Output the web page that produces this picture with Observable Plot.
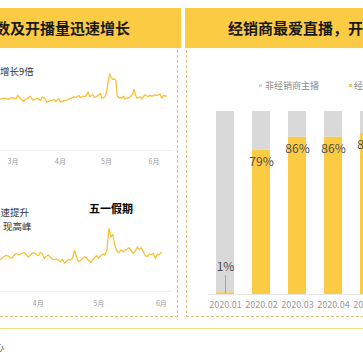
<!DOCTYPE html>
<html><head><meta charset="utf-8">
<script src="https://cdn.jsdelivr.net/npm/d3@7"></script>
<script src="https://cdn.jsdelivr.net/npm/@observablehq/plot@0.6"></script>
<style>
html,body{margin:0;padding:0;background:#fff;}
#root{position:relative;width:363px;height:363px;overflow:hidden;font-family:"Noto Sans CJK SC","Noto Sans",sans-serif;background:#fff;}
.abs{position:absolute;white-space:nowrap;}
.banner{position:absolute;top:8px;height:40px;background:#FBCB43;}
.title{position:absolute;top:8px;height:40px;line-height:40px;font-size:15px;font-weight:bold;color:#1a1a1a;white-space:nowrap;}
.vdash{position:absolute;top:50px;height:267px;width:1px;background:repeating-linear-gradient(to bottom,#D9C27A 0 3px,transparent 3px 5px);}
.hdash{position:absolute;top:316px;height:1px;background:repeating-linear-gradient(to right,#D9C27A 0 3px,transparent 3px 5px);}
.chart{position:absolute;}
.chart svg{max-width:none !important;}
.note{position:absolute;white-space:nowrap;font-size:10px;color:#333;line-height:1;}
</style></head>
<body><div id="root">
  <div class="banner" style="left:0;width:181px;"></div>
  <div class="banner" style="left:185px;width:178px;"></div>
  <div class="title" style="left:-5px;">数及开播量迅速增长</div>
  <div class="title" style="left:228px;">经销商最爱直播，开播</div>
  <div class="vdash" style="left:177px;"></div>
  <div class="vdash" style="left:186px;"></div>
  <div class="hdash" style="left:0;width:178px;"></div>
  <div class="hdash" style="left:186px;width:177px;"></div>
  <div class="abs" style="left:0;top:328px;width:363px;height:1px;background:#F3DE8A;"></div>
  <div class="abs" style="left:-16px;top:339px;font-size:10px;color:#555;">中心</div>

  <div id="c1" class="chart" style="left:0;top:50px;width:172px;"></div>
  <div id="c2" class="chart" style="left:0;top:215px;width:172px;"></div>
  <div id="c3" class="chart" style="left:186px;top:100px;width:230px;"></div>

  <div class="note" style="left:0;top:67px;font-size:9.5px;">增长9倍</div>
  <div class="note" style="left:-9px;top:208px;font-size:9.5px;">迅速提升</div>
  <div class="note" style="left:3px;top:221.5px;font-size:9.5px;">现高峰</div>
  <div class="note" style="left:89px;top:203px;font-size:11px;font-weight:bold;color:#000;">五一假期</div>

  <div class="abs" style="left:259px;top:84px;width:3px;height:3px;background:#D9D9D9;"></div>
  <div class="note" style="left:265px;top:81px;font-size:9px;color:#8c8c8c;">非经销商主播</div>
  <div class="abs" style="left:349px;top:84px;width:3px;height:3px;background:#FBCB43;"></div>
  <div class="note" style="left:354px;top:81px;font-size:9px;color:#8c8c8c;">经销商主播</div>
</div>
<script>
// ---- Chart 1: daily index (upper left) ----
const dates1 = ["2020-02-22","2020-02-25","2020-02-27","2020-02-29","2020-03-03","2020-03-04","2020-03-06","2020-03-08","2020-03-09","2020-03-11","2020-03-12","2020-03-14","2020-03-16","2020-03-17","2020-03-19","2020-03-20","2020-03-22","2020-03-23","2020-03-25","2020-03-27","2020-03-28","2020-03-29","2020-03-31","2020-04-01","2020-04-03","2020-04-05","2020-04-06","2020-04-08","2020-04-10","2020-04-11","2020-04-13","2020-04-14","2020-04-16","2020-04-17","2020-04-19","2020-04-20","2020-04-22","2020-04-23","2020-04-25","2020-04-27","2020-04-28","2020-04-30","2020-05-01","2020-05-02","2020-05-03","2020-05-04","2020-05-05","2020-05-06","2020-05-07","2020-05-08","2020-05-09","2020-05-11","2020-05-12","2020-05-13","2020-05-14","2020-05-16","2020-05-18","2020-05-19","2020-05-20","2020-05-21","2020-05-23","2020-05-24","2020-05-26","2020-05-28","2020-05-29","2020-05-31","2020-06-01","2020-06-03","2020-06-05","2020-06-06","2020-06-07","2020-06-09"];
const values1 = [51.7,52.3,51.0,53.0,51.7,55.0,51.7,49.0,51.0,52.3,54.3,50.3,51.7,52.3,49.7,53.7,51.7,48.3,49.7,50.3,51.0,49.0,51.7,48.3,49.7,50.3,51.0,52.3,53.7,53.0,55.0,53.0,54.3,53.7,58.3,53.7,55.7,53.0,54.3,57.0,52.3,53.7,58.3,68.3,76.7,73.3,71.0,71.7,70.3,55.0,53.0,52.3,54.3,51.7,52.3,53.0,56.3,61.0,55.0,52.3,53.7,51.7,55.7,53.7,55.0,54.3,55.7,55.0,56.3,52.3,55.0,54.3];
const ticks1 = ["2020-03-01","2020-04-01","2020-05-01","2020-06-01"];
const labels1 = ["3月","4月","5月","6月"];

// ---- Chart 2: daily index (lower left), starting 2020-03-13 ----
const start2 = "2020-03-13";
const values2 = [31.7,33.0,35.0,36.0,35.7,33.7,33.0,36.3,38.0,37.0,37.0,38.0,39.0,37.0,34.3,36.3,38.3,38.7,37.3,35.7,39.0,37.7,33.3,35.3,36.7,34.3,32.3,31.7,32.3,31.3,29.7,32.3,28.3,30.3,32.0,31.3,33.7,41.0,34.3,29.7,31.0,33.3,34.7,33.3,31.0,29.0,31.7,34.0,36.0,33.3,36.0,37.3,36.3,41.0,63.0,54.3,57.0,46.0,40.3,39.0,41.7,39.7,41.0,42.3,43.7,41.0,38.3,40.3,44.3,42.3,43.7,40.3,35.7,35.0,37.7,37.0,38.3,33.0,37.0,37.0,39.0];
const ticks2 = ["2020-04-01","2020-05-01","2020-06-01"];
const labels2 = ["4月","5月","6月"];

// ---- Chart 3: share of live streamers ----
const months = ["2020.01","2020.02","2020.03","2020.04","2020.05"];
const dealerShare = [0.01,0.79,0.86,0.86,0.88];
const otherShare = [0.99,0.21,0.14,0.14,0.12];
const seriesNames = ["经销商主播","非经销商主播"];

const lineColor = "#F7C23A";
const font = '"Noto Sans CJK SC","Noto Sans",sans-serif';

const data1 = dates1.map((d,i)=>({date:new Date(d), value:values1[i]}));
const c1 = Plot.plot({
  width:172, height:125, marginTop:5, marginBottom:25, marginLeft:0, marginRight:0,
  style:{fontSize:"7px", color:"#999", fontFamily:font, background:"transparent"},
  x:{type:"utc", domain:[new Date(Date.UTC(2020,1,21,20)), new Date(Date.UTC(2020,5,13,1))],
     ticks:ticks1.map(d=>new Date(d)), tickFormat:(d,i)=>labels1[i], tickSize:0, tickPadding:9, label:null},
  y:{domain:[0,95], axis:null},
  marks:[
    Plot.ruleY([0],{stroke:"#eeeeee"}),
    Plot.lineY(data1,{x:"date", y:"value", stroke:lineColor, strokeWidth:1.3})
  ]
});
document.getElementById("c1").appendChild(c1);

const t0 = new Date(start2);
const data2 = values2.map((v,i)=>({date:d3.utcDay.offset(t0,i), value:v}));
const c2 = Plot.plot({
  width:172, height:100, marginTop:5, marginBottom:24, marginLeft:0, marginRight:0,
  style:{fontSize:"7px", color:"#999", fontFamily:font, background:"transparent"},
  x:{type:"utc", domain:[new Date(Date.UTC(2020,2,13,8)), new Date(Date.UTC(2020,5,6,12))],
     ticks:ticks2.map(d=>new Date(d)), tickFormat:(d,i)=>labels2[i], tickSize:0, tickPadding:10, label:null},
  y:{domain:[0,71], axis:null},
  marks:[
    Plot.ruleY([0],{stroke:"#eeeeee"}),
    Plot.lineY(data2,{x:"date", y:"value", stroke:lineColor, strokeWidth:1.3})
  ]
});
document.getElementById("c2").appendChild(c2);

const rows = [
  ...months.map((m,i)=>({month:m, series:seriesNames[0], share:dealerShare[i]})),
  ...months.map((m,i)=>({month:m, series:seriesNames[1], share:otherShare[i]}))
];
const dealerRows = rows.filter(d=>d.series===seriesNames[0]);
const big = dealerRows.filter(d=>d.share>=0.05);
const small = dealerRows.filter(d=>d.share<0.05);
const pct = d=>Math.round(d.share*100)+"%";

const c3 = Plot.plot({
  width:230, height:215, marginTop:11, marginBottom:21, marginLeft:22, marginRight:30,
  style:{fontSize:"9px", color:"#999", fontFamily:font, background:"transparent", maxWidth:"none"},
  x:{type:"band", domain:months, paddingInner:0.5, paddingOuter:0.222, tickSize:0, tickPadding:7, label:null},
  y:{domain:[0,1], axis:null},
  color:{domain:seriesNames, range:["#FBCB43","#D9D9D9"]},
  marks:[
    Plot.ruleY([0],{stroke:"#e6e6e6"}),
    Plot.barY(rows,{x:"month", y:"share", fill:"series"}),
    Plot.text(big,{x:"month", y:"share", text:pct, dy:12, fontSize:12, fill:"#4d4d4d"}),
    Plot.ruleX(small,{x:"month", y1:"share", y2:"share", insetTop:-17, insetBottom:-1, stroke:"#8c8c8c", strokeWidth:0.7}),
    Plot.text(small,{x:"month", y:"share", text:pct, dy:-26, fontSize:12, fill:"#4d4d4d"})
  ]
});
document.getElementById("c3").appendChild(c3);
</script>
</body></html>
